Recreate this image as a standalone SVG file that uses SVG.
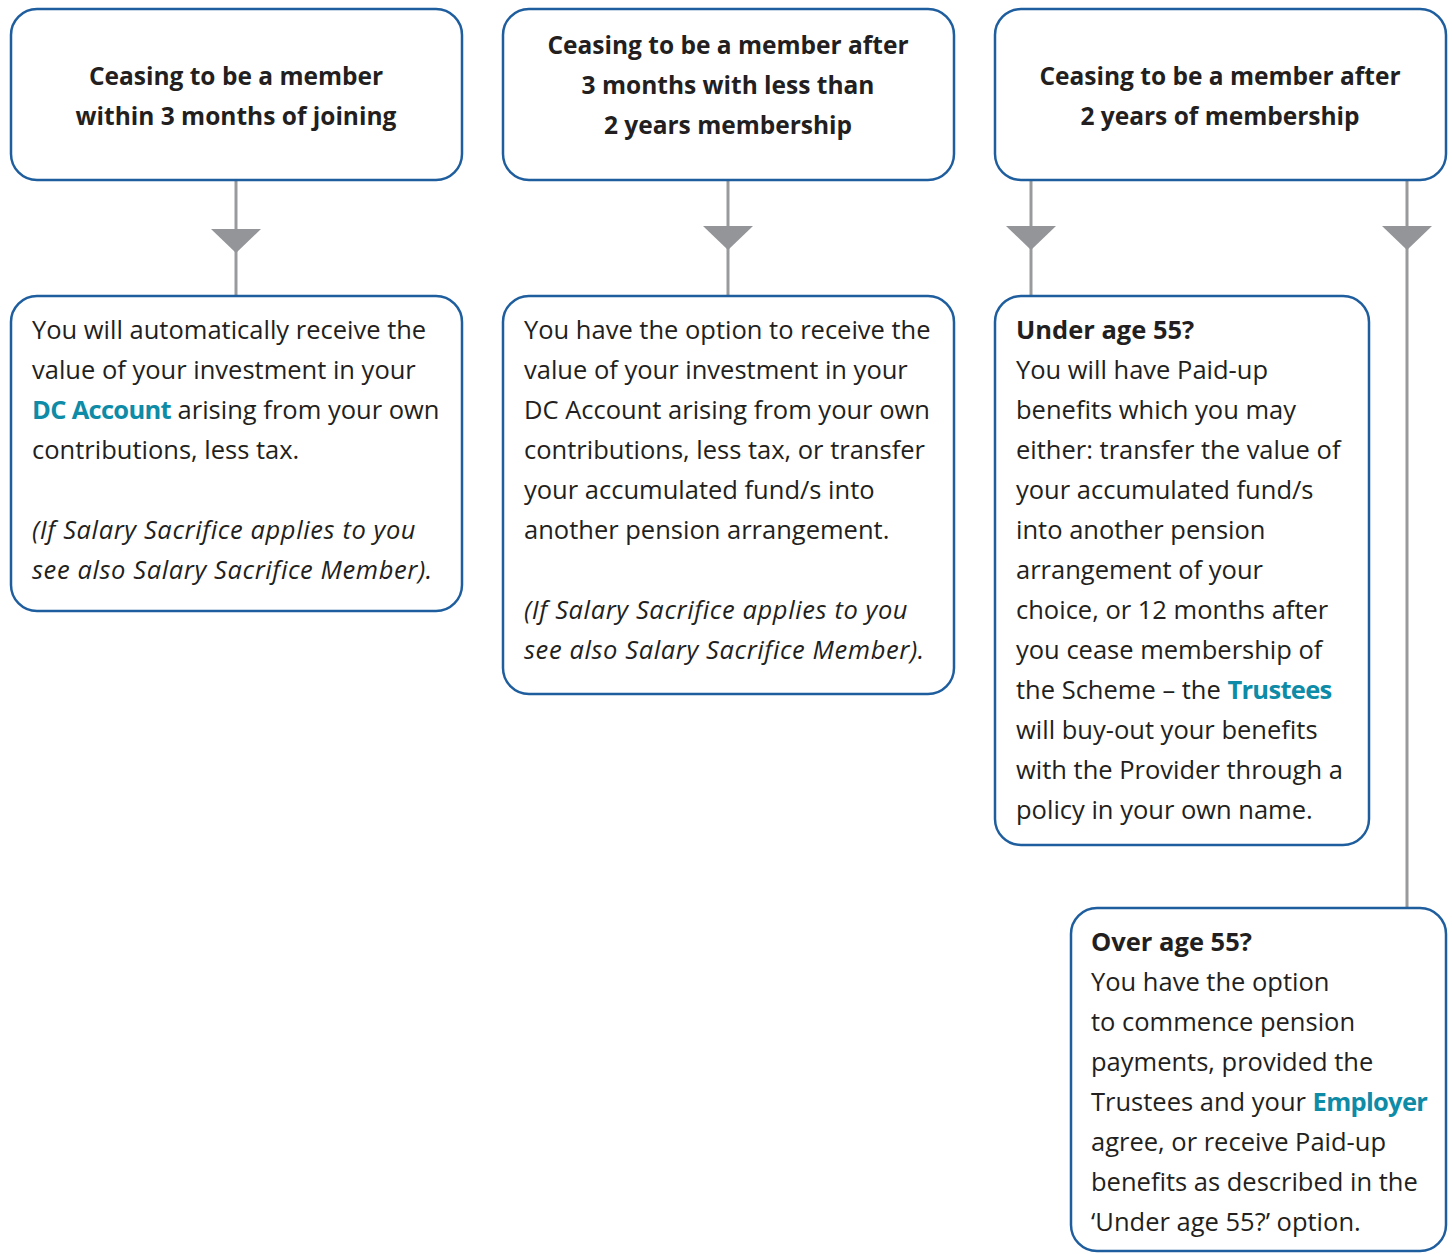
<svg xmlns="http://www.w3.org/2000/svg" width="1452" height="1254" viewBox="0 0 1452 1254">
<style>
.box{fill:#fff;stroke:#1f5e9e;stroke-width:2.5}
.h{font-family:"Open Sans","Noto Sans",sans-serif;font-weight:bold;font-size:24.5px;fill:#231f20;text-anchor:middle}
.t{font-family:"Open Sans","Noto Sans",sans-serif;font-size:25.5px;fill:#231f20}
.b{font-weight:bold}
.i{font-style:italic;letter-spacing:0.6px}
.k{font-weight:bold;fill:#0e8ba6;letter-spacing:-0.7px}
.ln{stroke:#999a9c;stroke-width:3;fill:none}
.ar{fill:#939598}
</style>
<g id="connectors">
<line class="ln" x1="236" y1="180" x2="236" y2="296"/>
<polygon class="ar" points="211,229 261,229 236,253"/>
<line class="ln" x1="728" y1="180" x2="728" y2="296"/>
<polygon class="ar" points="703,226 753,226 728,250"/>
<line class="ln" x1="1031" y1="180" x2="1031" y2="296"/>
<polygon class="ar" points="1006,226 1056,226 1031,250"/>
<line class="ln" x1="1407" y1="180" x2="1407" y2="908"/>
<polygon class="ar" points="1382,226 1432,226 1407,250"/>
</g>
<g id="n1">
<rect class="box" x="11" y="9" width="451" height="171" rx="26"/>
<text class="h"><tspan x="236" y="85">Ceasing to be a member</tspan><tspan x="236" y="125">within 3 months of joining</tspan></text>
</g>
<g id="n2">
<rect class="box" x="503" y="9" width="451" height="171" rx="26"/>
<text class="h"><tspan x="728" y="54">Ceasing to be a member after</tspan><tspan x="728" y="94">3 months with less than</tspan><tspan x="728" y="134">2 years membership</tspan></text>
</g>
<g id="n3">
<rect class="box" x="995" y="9" width="451" height="171" rx="26"/>
<text class="h"><tspan x="1220" y="85">Ceasing to be a member after</tspan><tspan x="1220" y="125">2 years of membership</tspan></text>
</g>
<g id="n4">
<rect class="box" x="11" y="296" width="451" height="315" rx="26"/>
<text class="t"><tspan x="32" y="339">You will automatically receive the</tspan><tspan x="32" y="379">value of your investment in your</tspan><tspan x="32" y="419" class="k">DC Account</tspan><tspan> arising from your own</tspan><tspan x="32" y="459">contributions, less tax.</tspan><tspan x="32" y="539" class="i">(If Salary Sacrifice applies to you</tspan><tspan x="32" y="579" class="i">see also Salary Sacrifice Member).</tspan></text>
</g>
<g id="n5">
<rect class="box" x="503" y="296" width="451" height="398" rx="26"/>
<text class="t"><tspan x="524" y="339">You have the option to receive the</tspan><tspan x="524" y="379">value of your investment in your</tspan><tspan x="524" y="419">DC Account arising from your own</tspan><tspan x="524" y="459">contributions, less tax, or transfer</tspan><tspan x="524" y="499">your accumulated fund/s into</tspan><tspan x="524" y="539">another pension arrangement.</tspan><tspan x="524" y="619" class="i">(If Salary Sacrifice applies to you</tspan><tspan x="524" y="659" class="i">see also Salary Sacrifice Member).</tspan></text>
</g>
<g id="n6">
<rect class="box" x="995" y="296" width="374" height="549" rx="26"/>
<text class="t"><tspan x="1016" y="339" class="b">Under age 55?</tspan><tspan x="1016" y="379">You will have Paid-up</tspan><tspan x="1016" y="419">benefits which you may</tspan><tspan x="1016" y="459">either: transfer the value of</tspan><tspan x="1016" y="499">your accumulated fund/s</tspan><tspan x="1016" y="539">into another pension</tspan><tspan x="1016" y="579">arrangement of your</tspan><tspan x="1016" y="619">choice, or 12 months after</tspan><tspan x="1016" y="659">you cease membership of</tspan><tspan x="1016" y="699">the Scheme – the </tspan><tspan class="k">Trustees</tspan><tspan x="1016" y="739">will buy-out your benefits</tspan><tspan x="1016" y="779">with the Provider through a</tspan><tspan x="1016" y="819">policy in your own name.</tspan></text>
</g>
<g id="n7">
<rect class="box" x="1071" y="908" width="375" height="343" rx="26"/>
<text class="t"><tspan x="1091" y="951" class="b">Over age 55?</tspan><tspan x="1091" y="991">You have the option</tspan><tspan x="1091" y="1031">to commence pension</tspan><tspan x="1091" y="1071">payments, provided the</tspan><tspan x="1091" y="1111">Trustees and your </tspan><tspan class="k">Employer</tspan><tspan x="1091" y="1151">agree, or receive Paid-up</tspan><tspan x="1091" y="1191">benefits as described in the</tspan><tspan x="1091" y="1231">‘Under age 55?’ option.</tspan></text>
</g>
</svg>
